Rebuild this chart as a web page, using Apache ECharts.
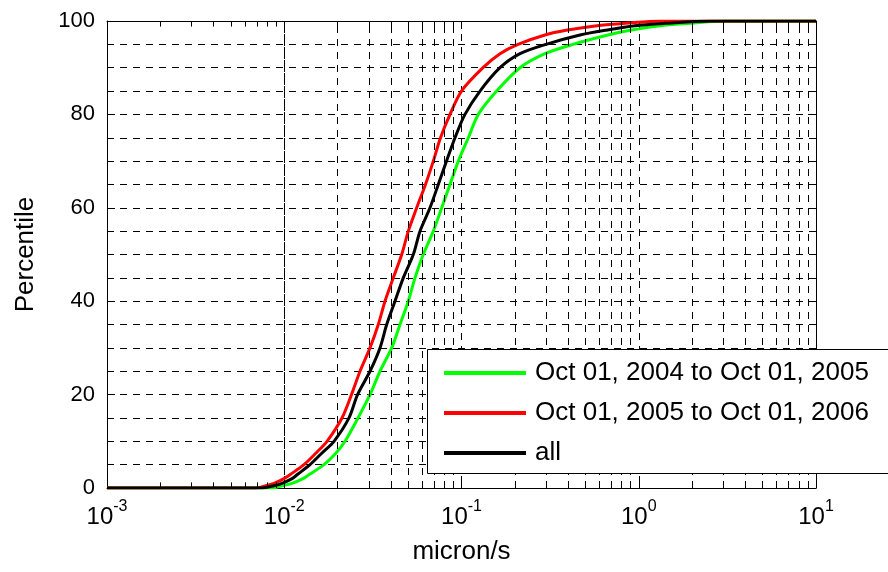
<!DOCTYPE html>
<html>
<head>
<meta charset="utf-8">
<script src="https://cdn.jsdelivr.net/npm/echarts@6/dist/echarts.min.js"></script>
<style>
  html, body { margin: 0; padding: 0; background: #fff; }
  #chart { width: 888px; height: 572px; }
</style>
</head>
<body>
<div id="chart"></div>
<script>
// Cumulative distribution of speed (micron/s) for two yearly periods and the whole record.
const percentLevels = [0, 0.5, 1, 2, 3, 5, 7.5, 10, 15, 20, 25, 30, 35, 40, 45, 50,
  55, 60, 65, 70, 75, 80, 85, 90, 93, 95, 97, 98, 99, 99.5, 100];

const speed2004to2005 = [0.00853, 0.00971, 0.01106, 0.01276, 0.01398, 0.01676, 0.01959, 0.02202,
  0.02607, 0.03046, 0.03469, 0.04039, 0.04498, 0.05011, 0.05467, 0.06087, 0.06934, 0.07733,
  0.08614, 0.09594, 0.1093, 0.1244, 0.1579, 0.2138, 0.2959, 0.4256, 0.6706, 0.8925, 1.318,
  1.946, 3.066];

const speed2005to2006 = [0.00684, 0.00789, 0.00875, 0.00997, 0.01092, 0.01292, 0.01511, 0.01743,
  0.02117, 0.02395, 0.02676, 0.03046, 0.03393, 0.03701, 0.04123, 0.04598, 0.05011, 0.05587,
  0.06264, 0.06934, 0.07613, 0.08614, 0.1, 0.1322, 0.1649, 0.2084, 0.2959, 0.3887, 0.5814,
  0.8364, 1.318];

const speedAll = [0.00749, 0.00875, 0.00971, 0.01106, 0.01196, 0.01398, 0.01633, 0.01909,
  0.02319, 0.02591, 0.03046, 0.03469, 0.03784, 0.04215, 0.04695, 0.05348, 0.05833, 0.06642,
  0.07398, 0.08232, 0.0919, 0.1046, 0.1272, 0.1649, 0.2138, 0.2997, 0.4661, 0.645, 0.9524,
  1.406, 2.523];

const seriesNames = ['Oct 01, 2004 to Oct 01, 2005', 'Oct 01, 2005 to Oct 01, 2006', 'all'];
const seriesColors = ['#00ff00', '#ff0000', '#000000'];

const xMin = 0.001, xMax = 10;
const decadeStarts = [0.001, 0.01, 0.1, 1];
const minorMultipliers = [2, 3, 4, 5, 6, 7, 8, 9];

const FONT = '"Liberation Sans", Arial, Helvetica, sans-serif';

function curve(values) {
  const pts = [[xMin, 0]];
  values.forEach((v, i) => pts.push([v, percentLevels[i]]));
  pts.push([xMax, 100]);
  return pts;
}

// minor log positions (2..9 per decade) for grid lines and ticks
const minorX = [];
decadeStarts.forEach(d => minorMultipliers.forEach(m => minorX.push(+(d * m).toPrecision(3))));

const gridDash = { color: '#000', width: 1, type: [7, 6] };
const tickSolid = { color: '#000', width: 1, type: 'solid' };

const minorGridLines = minorX.map(v => ({ xAxis: v, lineStyle: gridDash }));
const minorTickMarks = [];
minorX.forEach(v => {
  minorTickMarks.push([{ coord: [v, 0], lineStyle: tickSolid }, { coord: [v, 1.2] }]);
  minorTickMarks.push([{ coord: [v, 100], lineStyle: tickSolid }, { coord: [v, 98.8] }]);
});

const chart = echarts.init(document.getElementById('chart'), null, { renderer: 'canvas' });

const lineSeries = [speed2004to2005, speed2005to2006, speedAll].map((vals, i) => ({
  name: seriesNames[i],
  type: 'line',
  xAxisIndex: 0,
  yAxisIndex: 0,
  data: curve(vals),
  showSymbol: false,
  symbol: 'none',
  smooth: 0.3,
  z: 3 + i,
  lineStyle: { color: seriesColors[i], width: 3 },
  itemStyle: { color: seriesColors[i] },
  emphasis: { disabled: true }
}));

chart.setOption({
  animation: false,
  backgroundColor: '#fff',
  grid: { left: 107, right: 72, top: 21, bottom: 84, outerBoundsMode: 'none' },
  // legend frame runs past the right edge of the figure
  graphic: [{
    type: 'rect',
    left: 427,
    top: 349,
    z: 8,
    silent: true,
    shape: { width: 500, height: 124 },
    style: { fill: '#fff', stroke: '#000', lineWidth: 1 }
  }],
  legend: {
    data: seriesNames,
    orient: 'vertical',
    left: 427,
    top: 349,
    padding: [11, 10, 13, 17],
    itemGap: 14,
    itemWidth: 82,
    itemHeight: 4,
    icon: 'rect',
    backgroundColor: 'transparent',
    borderWidth: 0,
    selectedMode: false,
    textStyle: { fontFamily: FONT, fontSize: 26, color: '#000', lineHeight: 24, padding: [0, 0, 0, 4] },
    z: 10
  },
  xAxis: [{
    type: 'log',
    logBase: 10,
    min: xMin,
    max: xMax,
    position: 'bottom',
    name: 'micron/s',
    nameLocation: 'middle',
    nameGap: 51,
    nameTextStyle: { fontFamily: FONT, fontSize: 26, color: '#000' },
    axisLine: { show: true, onZero: false, lineStyle: { color: '#000', width: 1 } },
    axisTick: { show: true, inside: true, length: 8, lineStyle: { color: '#000' } },
    axisLabel: {
      margin: 14,
      color: '#000',
      formatter: v => '{b|10}{s|' + Math.round(Math.log10(v)) + '}',
      rich: {
        b: { fontFamily: FONT, fontSize: 24, color: '#000', lineHeight: 24, padding: [7, 0, 0, 0] },
        s: { fontFamily: FONT, fontSize: 16, color: '#000', lineHeight: 16, padding: [0, 0, 15, 0] }
      }
    },
    splitLine: { show: true, lineStyle: gridDash },
    minorTick: { show: false },
    minorSplitLine: { show: false }
  }, {
    type: 'log',
    logBase: 10,
    min: xMin,
    max: xMax,
    position: 'top',
    axisLine: { show: true, onZero: false, lineStyle: { color: '#000', width: 1 } },
    axisTick: { show: true, inside: true, length: 8, lineStyle: { color: '#000' } },
    axisLabel: { show: false },
    splitLine: { show: false }
  }],
  yAxis: [{
    type: 'value',
    min: 0,
    max: 100,
    interval: 20,
    position: 'left',
    name: 'Percentile',
    nameLocation: 'middle',
    nameGap: 68,
    nameRotate: 90,
    nameTextStyle: { fontFamily: FONT, fontSize: 26, color: '#000' },
    axisLine: { show: true, onZero: false, lineStyle: { color: '#000', width: 1 } },
    axisTick: { show: true, inside: true, length: 8, lineStyle: { color: '#000' } },
    axisLabel: { margin: 12, fontFamily: FONT, fontSize: 22, color: '#000' },
    splitLine: { show: true, lineStyle: gridDash },
    minorTick: { show: false, splitNumber: 4 },
    minorSplitLine: { show: true, lineStyle: gridDash }
  }, {
    type: 'value',
    min: 0,
    max: 100,
    interval: 20,
    position: 'right',
    axisLine: { show: true, onZero: false, lineStyle: { color: '#000', width: 1 } },
    axisTick: { show: true, inside: true, length: 8, lineStyle: { color: '#000' } },
    axisLabel: { show: false },
    splitLine: { show: false }
  }],
  series: [{
    name: 'log grid',
    type: 'line',
    xAxisIndex: 0,
    yAxisIndex: 0,
    data: [[xMin, 0]],
    showSymbol: false,
    symbol: 'none',
    lineStyle: { width: 0, opacity: 0 },
    silent: true,
    z: 1,
    markLine: {
      silent: true,
      symbol: ['none', 'none'],
      label: { show: false },
      emphasis: { disabled: true },
      animation: false,
      data: minorGridLines.concat(minorTickMarks)
    }
  }].concat(lineSeries)
});
</script>
</body>
</html>
